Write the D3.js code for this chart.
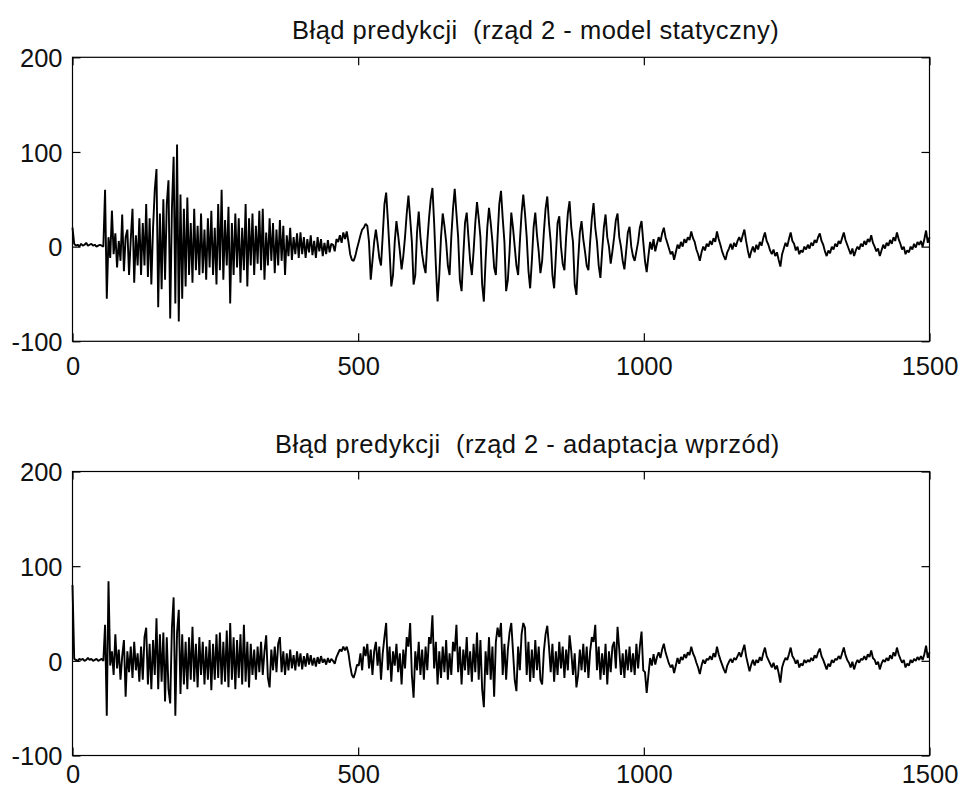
<!DOCTYPE html>
<html>
<head>
<meta charset="utf-8">
<script src="https://cdn.jsdelivr.net/npm/d3@7"></script>
<style>
  body { margin: 0; background: #fff; }
  text { font-family: "Liberation Sans", Arial, sans-serif; }
</style>
</head>
<body>
<script>
// sample spacing of the stored values (every 3rd sample of 0..1500)
var STEP = 3;
var xTicks = [0, 500, 1000, 1500];
var yTicks = [-100, 0, 100, 200];
var titleStatic = "Błąd predykcji  (rząd 2 - model statyczny)";
var titleAdapt = "Błąd predykcji  (rząd 2 - adaptacja wprzód)";

// błąd - model statyczny, samples 0..498
var staticOnset = [
  20, 3, 1, 2, 0, 3, 1, 2, 4, 1,
  2, 3, 1, 2, 0, 1, 2, 1, 0, 60,
  -55, 10, -12, 38, -8, 14, -22, 6, -15, 34,
  -26, 10, 18, -30, 8, 40, -38, 12, -20, 30,
  -30, 25, -20, 45, -32, 30, -40, 20, 60, 82,
  -64, 35, -45, 50, -35, 45, 70, -76, 40, 95,
  -60, 108, -79, 55, -55, 40, -42, 52, -30, 25,
  -38, 40, -25, 22, -30, 35, -28, 18, -35, 30,
  -22, 38, -30, 20, -40, 45, -25, 60, -35, 28,
  -20, 42, -60, 25, -30, 35, -22, 30, -38, 20,
  -25, 45, -42, 30, -20, 35, -30, 22, -18, 38,
  -25, 40, -35, 15, -20, 30, -15, 25, -28, 18,
  -20, 28, -15, 22, -30, 12, -10, 20, -14, 10,
  -8, 14, -12, 15, -8, 10, -12, 8, -6, 12,
  -9, 6, -12, 10, -5, 8, -10, 4, -8, 7,
  -6, 3, 2, -5, 8, 5, 12, 4, 15, 8,
  16, 5, -8, -14, -15, -10, -2
];
// samples 501..999
var staticOsc = [
  5, 12, 18, 20, 24, 22, 5, -35, -15, 5,
  18, 4, -12, -20, 12, 45, 57, 28, -5, -42,
  -30, 5, 27, 12, -5, -24, -10, 10, 35, 54,
  30, 5, -40, -30, 15, 37, 10, -8, -20, -28,
  5, 30, 50, 62, 25, -20, -58, -30, 10, 35,
  22, 5, -20, -30, 10, 40, 61, 35, 10, -35,
  -47, -10, 25, 36, 10, -15, -30, -5, 25, 47,
  30, 10, -40, -58, -15, 20, 41, 25, 5, -22,
  -30, 10, 45, 59, 30, 5, -47, -35, -5, 36,
  20, 0, -20, -30, 5, 35, 55, 35, 10, -25,
  -44, -15, 20, 36, 12, -5, -28, -15, 15, 40,
  53, 25, 5, -30, -44, -10, 25, 32, 0, -18,
  -25, 10, 35, 48, 20, 5, -40, -51, -15, 15,
  27, 8, -5, -20, -25, 5, 30, 46, 20, 5,
  -20, -33, -5, 20, 34, 10, 0, -18, -5, 10,
  28, 35, 10, 0, -15, -24, -5, 15, 21, 0,
  -10, -15, -5, 5, 20, 27, 5
];
// samples 1002..1500
var staticTail = [
  -15, -27, -10, 5, -3, 8, -5, 3, 10, 5,
  14, 20, 10, 4, -2, -8, -5, -14, -6, 2,
  -2, 5, 0, 8, 4, 10, 7, 16, 9, 5,
  -3, -8, -15, -6, 0, -4, 3, 0, 6, 2,
  9, 5, 16, 8, 2, -5, -10, -14, -6, -2,
  3, -3, 4, 0, 6, 10, 5, 12, 18, 6,
  -4, -12, -5, 0, -6, 2, -3, 5, 1, 9,
  15, 6, 2, -4, -8, -3, -10, -6, -14, -21,
  -8, -2, 4, 0, 8, 15, 6, 3, -4, 0,
  -8, -4, -6, 0, -3, 2, -2, 4, 1, 7,
  4, 10, 14, 6, 2, -5, -10, -4, -7, 0,
  -3, 3, 0, 6, 3, 9, 15, 7, 2, -3,
  -8, -2, -10, -4, 0, -3, 3, 0, 6, 2,
  8, 5, 12, 4, 0, -5, -2, -10, -4, 2,
  -2, 4, 1, 7, 3, 10, 6, 15, 8, 3,
  -3, 0, -8, -4, -6, 0, -3, 3, -1, 5,
  2, 6, 0, 8, 17, 4, 10
];

// błąd - adaptacja wprzód, samples 0..498
var adaptOnset = [
  80, 2, 1, 0, 2, 1, 2, 0, 1, 3,
  1, 2, 0, 1, 2, 0, 1, 2, 0, 38,
  -58, 84, -5, 10, -15, 28, -8, 12, -20, 5,
  22, -38, 10, -12, 15, -18, 20, -10, 8, -22,
  15, -20, 25, 35, -25, 18, -30, 22, -15, 45,
  -30, 28, -22, 30, -43, 25, -30, -45, 35, 67,
  -58, 30, 54, -35, 28, -25, 20, -30, 25, -20,
  36, -22, 18, -28, 25, -15, 20, -25, 15, -20,
  22, -31, 18, -20, 28, -18, 30, -25, 20, -22,
  32, -28, 40, -20, 25, -30, 22, -18, 28, -25,
  38, -22, 20, -28, 18, -15, 12, -20, 15, -12,
  20, -15, 10, 27, -18, -28, 12, -10, 15, -12,
  18, 25, -12, 10, -15, 8, -10, 12, -8, 6,
  -10, 10, -6, 8, -9, 5, -6, 8, -4, 6,
  -5, 3, -6, 4, -3, 5, -2, 2, -4, 3,
  -2, 2, 0, -3, 4, 8, 12, 10, 15, 11,
  15, 8, -5, -15, -18, -12, -4
];
// samples 501..999
var adaptMid = [
  -5, 8, -10, 15, 5, 18, -8, 12, -15, 10,
  20, -5, 15, -20, 8, 25, 40, -10, 15, -22,
  10, -5, 18, -12, 8, -25, 12, -8, 25, 15,
  40, -15, -39, 10, -10, 20, -15, 12, -20, 15,
  -10, 25, 18, 48, -8, 20, -25, 10, -18, 15,
  -12, 22, -20, 8, -15, 20, 10, 38, -12, 15,
  -25, 12, -10, 25, -15, 10, -22, 18, -12, 30,
  -20, 22, -30, -49, 10, -15, 25, -20, 15, -38,
  20, 35, 25, 40, -15, 18, -20, 12, 30, 40,
  10, -20, -32, 15, -10, 28, 40, 35, -15, 20,
  -22, 12, -18, 22, -10, 15, -20, -25, 10, 28,
  37, 15, -12, 18, -22, 10, -15, 20, -8, 15,
  -18, 12, -10, 27, 10, -15, 8, -28, -15, 12,
  -10, 18, -12, 15, -18, 10, 25, 20, 38, -10,
  15, -20, 8, -15, 18, -25, 10, -12, 15, 20,
  -8, 36, 12, -15, 8, -18, 12, -10, 15, -12,
  8, -15, 18, -8, 15, 31, -10
];
// samples 1002..1500
var adaptTail = [
  -12, -34, -15, 3, -5, 7, -4, 4, 9, 3,
  12, 18, 9, 3, -3, -7, -4, -13, -5, 3,
  -3, 4, 1, 7, 3, 9, 6, 15, 8, 4,
  -2, -7, -14, -5, 1, -3, 2, 1, 5, 1,
  8, 4, 15, 7, 1, -4, -9, -13, -5, -1,
  2, -2, 3, 1, 5, 9, 4, 11, 17, 5,
  -3, -11, -4, 1, -5, 1, -2, 4, 0, 8,
  14, 5, 1, -3, -7, -2, -9, -5, -13, -23,
  -7, -1, 3, 1, 7, 14, 5, 2, -3, 1,
  -7, -3, -5, 1, -2, 1, -1, 3, 0, 6,
  3, 9, 13, 5, 1, -4, -9, -3, -6, 1,
  -2, 2, 1, 5, 2, 8, 14, 6, 1, -2,
  -7, -1, -9, -3, 1, -2, 2, 1, 5, 1,
  7, 4, 11, 3, 1, -4, -1, -9, -3, 1,
  -1, 3, 0, 6, 2, 9, 5, 14, 7, 2,
  -2, 1, -7, -3, -5, 1, -2, 2, 0, 4,
  1, 5, 1, 7, 16, 3, 9
];

var staticErr = staticOnset.concat(staticOsc, staticTail);
var adaptErr = adaptOnset.concat(adaptMid, adaptTail);

var W = 961, H = 789;
var svg = d3.select("body").append("svg")
  .attr("width", W)
  .attr("height", H);
svg.append("rect").attr("width", W).attr("height", H).attr("fill", "#fff");

var plotLeft = 72.5, plotRight = 929.5, plotH = 284;
var plainNum = function(d) { return String(d); };  // "-100", "1000" as in the original

function drawPanel(values, top, title, titleX, titleY, xPad) {
  var x = d3.scaleLinear().domain([0, 1500]).range([plotLeft, plotRight]);
  var y = d3.scaleLinear().domain([-100, 200]).range([top + plotH, top]);

  var g = svg.append("g");

  var line = d3.line()
    .x(function(d, i) { return x(i * STEP); })
    .y(function(d) { return y(d); });

  g.append("path")
    .datum(values)
    .attr("d", line)
    .attr("fill", "none")
    .attr("stroke", "#000")
    .attr("stroke-width", 1.9)
    .attr("stroke-linejoin", "bevel");

  // axes, MATLAB style: ticks pointing in, on all four sides
  var ax = g.append("g").attr("transform", "translate(0," + (top + plotH) + ")")
    .call(d3.axisBottom(x).tickValues(xTicks).tickSize(-8).tickSizeOuter(0)
      .tickPadding(xPad).tickFormat(plainNum));
  var at = g.append("g").attr("transform", "translate(0," + top + ")")
    .call(d3.axisTop(x).tickValues(xTicks).tickSize(-8).tickSizeOuter(0).tickFormat(""));
  var ay = g.append("g").attr("transform", "translate(" + plotLeft + ",0)")
    .call(d3.axisLeft(y).tickValues(yTicks).tickSize(-8).tickSizeOuter(0)
      .tickPadding(10).tickFormat(plainNum));
  var ar = g.append("g").attr("transform", "translate(" + plotRight + ",0)")
    .call(d3.axisRight(y).tickValues(yTicks).tickSize(-8).tickSizeOuter(0).tickFormat(""));

  [ax, at, ay, ar].forEach(function(a) {
    a.select(".domain").remove();
    a.selectAll("line").attr("stroke", "#000").attr("stroke-width", 1.2);
    a.selectAll("text")
      .attr("fill", "#111")
      .style("font-size", "25.5px")
      .style("font-family", "'Liberation Sans', Arial, sans-serif");
  });
  ay.selectAll("text").attr("dy", "0.36em");

  g.append("rect")
    .attr("x", plotLeft).attr("y", top)
    .attr("width", plotRight - plotLeft).attr("height", plotH)
    .attr("fill", "none").attr("stroke", "#000").attr("stroke-width", 1.2);

  svg.append("text")
    .attr("x", titleX).attr("y", titleY)
    .attr("fill", "#111")
    .style("font-size", "25.5px")
    .style("letter-spacing", "0.5px")
    .style("white-space", "pre")
    .text(title);
}

drawPanel(staticErr, 57.3, titleStatic, 292, 38.6, 15.5);
drawPanel(adaptErr, 471.5, titleAdapt, 275, 453.3, 9.5);
</script>
</body>
</html>
